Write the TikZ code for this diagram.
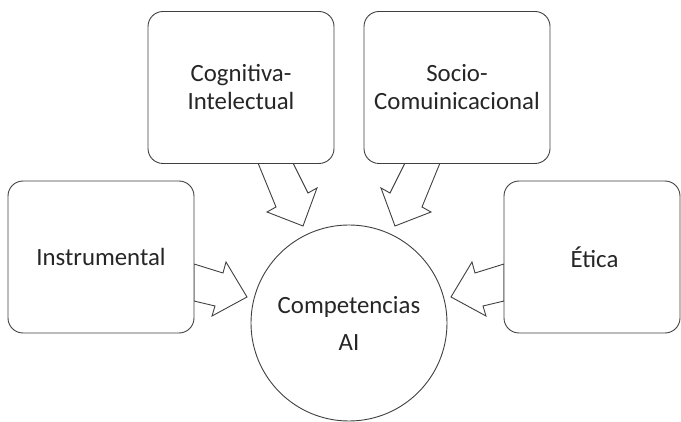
\documentclass[tikz,border=0pt]{standalone}
\usepackage{fontspec}
\setmainfont{Carlito}
\definecolor{linec}{HTML}{404040}
\definecolor{textc}{HTML}{262626}
\tikzset{
  box/.style={draw=linec, line width=0.9pt, fill=white, rounded corners=15pt,
    minimum width=186pt, minimum height=152pt, align=center, inner sep=0pt,
    text=textc, font=\fontsize{24.8}{28}\selectfont},
  hub/.style={draw=linec, line width=0.9pt, fill=white, circle, minimum size=196pt,
    inner sep=0pt, align=center, text=textc, font=\fontsize{24.8}{37}\selectfont},
  blockarrow/.style={draw=linec, line width=0.9pt, fill=white, line join=miter}
}
\begin{document}
\begin{tikzpicture}[x=1pt,y=-1pt]
\useasboundingbox (0,0) rectangle (681,422);
% block arrows
\draw[blockarrow] (194,264) -- (223,273) -- (226,262) -- (247,297) -- (212,316) -- (215,306) -- (194,301) -- cycle;
\draw[blockarrow] (504,264) -- (475,273) -- (472,262) -- (451,297) -- (486,316) -- (483,306) -- (504,301) -- cycle;
\draw[blockarrow] (258,163) -- (276,207) -- (267,212) -- (303,226) -- (317,188) -- (308,193) -- (293,163) -- cycle;
\draw[blockarrow] (440,163) -- (422,207) -- (431,212) -- (395,226) -- (381,188) -- (390,193) -- (405,163) -- cycle;
% boxes
\node[box] (cog) at (241,87.5) {Cognitiva-\\Intelectual};
\node[box] (soc) at (457,87.5) {Socio-\\Comuinicacional};
\node[box] (ins) at (101,257) {Instrumental};
\node[box, minimum width=176pt] (eti) at (592,257) {\hspace*{5pt}Ética};
\node[hub] (comp) at (349,323) {Competencias\\AI};
\end{tikzpicture}
\end{document}
